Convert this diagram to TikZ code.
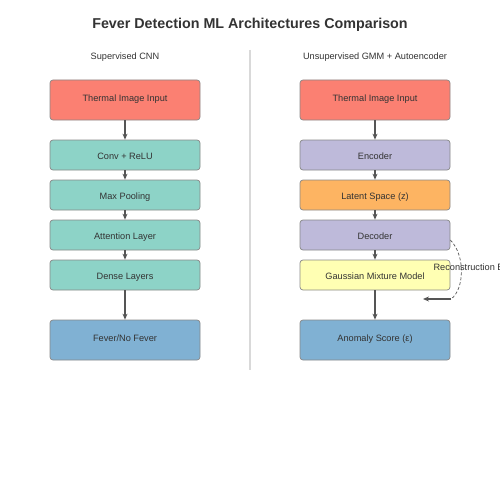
\documentclass[tikz,border=0pt]{standalone}
\usepackage{fontspec}
\setmainfont{Liberation Sans}
\usetikzlibrary{arrows.meta}
\definecolor{cred}{HTML}{FB8072}
\definecolor{cteal}{HTML}{8DD3C7}
\definecolor{cblue}{HTML}{80B1D3}
\definecolor{cpurple}{HTML}{BEBADA}
\definecolor{corange}{HTML}{FDB462}
\definecolor{cyellow}{HTML}{FFFFB3}
\definecolor{ctext}{HTML}{333333}
\definecolor{carrow}{HTML}{555555}
\definecolor{cborder}{HTML}{888888}
\tikzset{
  box/.style={draw=cborder, line width=0.7pt, rounded corners=3pt, minimum width=150pt, text=ctext, font=\fontsize{9.2}{11}\selectfont, inner sep=0pt},
  tall/.style={box, minimum height=40pt, text height=5pt, text depth=2pt},
  short/.style={box, minimum height=30pt, text height=8pt, text depth=0pt},
  flow/.style={draw=carrow, line width=1.3pt, -{Stealth[length=6pt,width=5pt]}},
  sub/.style={text=ctext, font=\fontsize{9.2}{11}\selectfont},
}
\begin{document}
\begin{tikzpicture}[x=1pt,y=-1pt]
\useasboundingbox[fill=white] (0,0) rectangle (500,500);
\node[font=\fontsize{14.3}{16}\selectfont\bfseries, text=ctext] (title) at (250,25) {Fever Detection ML Architectures Comparison};
\node[sub] (lsub) at (125,57) {Supervised CNN};
\node[sub] (rsub) at (375,57) {Unsupervised GMM + Autoencoder};
\coordinate (dtop) at (250,50);
\coordinate (dbot) at (250,370);
\draw[draw=black!15, line width=1.2pt] (dtop) -- (dbot);
% left column
\node[tall, fill=cred] (l1) at (125,100) {Thermal Image Input};
\node[short, fill=cteal] (l2) at (125,155) {Conv + ReLU};
\node[short, fill=cteal] (l3) at (125,195) {Max Pooling};
\node[short, fill=cteal] (l4) at (125,235) {Attention Layer};
\node[short, fill=cteal] (l5) at (125,275) {Dense Layers};
\node[tall, fill=cblue] (l6) at (125,340) {Fever/No Fever};
\draw[flow] (l1) -- (l2);
\draw[flow] (l2) -- (l3);
\draw[flow] (l3) -- (l4);
\draw[flow] (l4) -- (l5);
\draw[flow] (l5) -- (l6);
% right column
\node[tall, fill=cred] (r1) at (375,100) {Thermal Image Input};
\node[short, fill=cpurple] (r2) at (375,155) {Encoder};
\node[short, fill=corange] (r3) at (375,195) {Latent Space (z)};
\node[short, fill=cpurple] (r4) at (375,235) {Decoder};
\node[short, fill=cyellow] (r5) at (375,275) {Gaussian Mixture Model};
\node[tall, fill=cblue] (r6) at (375,340) {Anomaly Score (ε)};
\draw[flow] (r1) -- (r2);
\draw[flow] (r2) -- (r3);
\draw[flow] (r3) -- (r4);
\draw[flow] (r4) -- (r5);
\draw[flow] (r5) -- (r6);
% reconstruction error loop
\coordinate (rbend) at (451,299);
\coordinate (rend) at (423,299);
\draw[draw=carrow, line width=0.7pt, dash pattern=on 3pt off 2pt] (r4.east) ++(0,5) .. controls (466,256) and (464,290) .. (rbend);
\draw[draw=carrow, line width=1.2pt, -{Stealth[length=6pt,width=5pt]}] (rbend) -- (rend);
\node[sub, anchor=west] (recon) at (430,267) {Reconstruction Error};
\end{tikzpicture}
\end{document}
